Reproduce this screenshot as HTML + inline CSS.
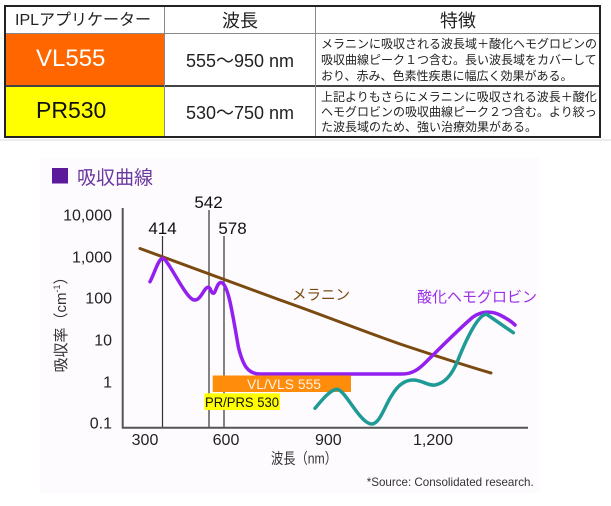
<!DOCTYPE html>
<html><head><meta charset="utf-8">
<style>
html,body{margin:0;padding:0;background:#fff;}
body{width:611px;height:506px;position:relative;overflow:hidden;font-family:"Liberation Sans","Noto Sans CJK JP",sans-serif;}
.a{position:absolute;}
.c{position:absolute;white-space:nowrap;}
</style></head><body>
<!-- table -->
<div class="a" style="left:6px;top:34px;width:158px;height:51px;background:#ff6600;"></div>
<div class="a" style="left:6px;top:86px;width:158px;height:50px;background:#ffff00;"></div>
<div class="a" style="left:6px;top:33px;width:595px;height:1px;background:#8a8a8a;"></div>
<div class="a" style="left:6px;top:85px;width:595px;height:1.5px;background:#444;"></div>
<div class="a" style="left:164px;top:6px;width:1px;height:131px;background:#8a8a8a;"></div>
<div class="a" style="left:315px;top:6px;width:1px;height:131px;background:#8a8a8a;"></div>
<div class="a" style="left:4px;top:5px;width:593px;height:129px;border:2px solid #222;"></div>

<div class="c" style="left:15px;top:10px;font-size:16px;line-height:22px;color:#222;">IPLアプリケーター</div>
<div class="c" style="left:165px;width:150px;top:10px;text-align:center;font-size:18px;line-height:22px;color:#222;">波長</div>
<div class="c" style="left:316px;width:284px;top:10px;text-align:center;font-size:18px;line-height:22px;color:#222;">特徴</div>

<div class="c" style="left:36px;top:45px;font-size:24px;line-height:28px;color:#fff;">VL555</div>
<div class="c" style="left:36px;top:96px;font-size:23px;line-height:28px;color:#111;">PR530</div>

<div class="c" style="left:165px;width:150px;top:50px;text-align:center;font-size:18px;line-height:22px;color:#222;">555～950 nm</div>
<div class="c" style="left:165px;width:150px;top:102px;text-align:center;font-size:18px;line-height:22px;color:#222;">530～750 nm</div>

<div class="c" style="left:321px;top:36px;font-size:12px;line-height:16px;color:#222;">メラニンに吸収される波長域＋酸化ヘモグロビンの<br>吸収曲線ピーク１つ含む。長い波長域をカバーして<br>おり、赤み、色素性疾患に幅広く効果がある。</div>
<div class="c" style="left:321px;top:90px;font-size:12px;line-height:15px;color:#222;">上記よりもさらにメラニンに吸収される波長＋酸化<br>ヘモグロビンの吸収曲線ピーク２つ含む。より絞っ<br>た波長域のため、強い治療効果がある。</div>

<div class="a" style="left:0;top:139px;width:611px;height:2px;background:#ececec;"></div>

<svg class="a" style="left:0;top:0" width="611" height="506" viewBox="0 0 611 506" font-family="Liberation Sans, Noto Sans CJK JP, sans-serif">
<rect x="40" y="158" width="500" height="335" fill="#fdfbfd"/>
<rect x="52" y="168" width="16" height="15.5" fill="#5c1a9a"/>
<text x="77" y="184" font-size="19" fill="#6a38a0">吸収曲線</text>

<!-- y tick labels -->
<g font-size="16" fill="#222" text-anchor="end">
<text x="112" y="220.7">10,000</text>
<text x="112" y="262.4">1,000</text>
<text x="112" y="303.7">100</text>
<text x="112" y="345.7">10</text>
<text x="112" y="387.4">1</text>
<text x="112" y="428.7">0.1</text>
</g>
<!-- y title -->
<text transform="translate(66,321) rotate(-90)" font-size="15" fill="#333" text-anchor="middle">吸収率（cm<tspan font-size="9" dy="-6">-1</tspan><tspan dy="6">）</tspan></text>

<!-- vertical marker lines -->
<g stroke="#333" stroke-width="1.2">
<line x1="162.5" y1="236" x2="162.5" y2="427"/>
<line x1="209" y1="210" x2="209" y2="427"/>
<line x1="224" y1="236" x2="224" y2="427"/>
</g>
<g font-size="17" fill="#111" text-anchor="middle">
<text x="162.5" y="234">414</text>
<text x="208.5" y="208">542</text>
<text x="232.5" y="234">578</text>
</g>

<!-- axes -->
<line x1="122.7" y1="208" x2="122.7" y2="428.5" stroke="#555" stroke-width="2"/>
<line x1="122" y1="427.7" x2="528" y2="427.7" stroke="#555" stroke-width="2"/>

<!-- x ticks -->
<g font-size="16" fill="#222" text-anchor="middle">
<text x="145" y="445">300</text>
<text x="226" y="445">600</text>
<text x="328.3" y="445">900</text>
<text x="433" y="445">1,200</text>
</g>
<text x="271" y="463.5" font-size="15" fill="#333" textLength="66" lengthAdjust="spacingAndGlyphs">波長（nm）</text>
<text x="366.7" y="486" font-size="12" fill="#333" textLength="167" lengthAdjust="spacingAndGlyphs">*Source:  Consolidated research.</text>

<!-- melanin -->
<path d="M140,248.5 L280,300 C320,314 360,330 400,344 C430,354 460,364 491,373" fill="none" stroke="#7a4a10" stroke-width="3" stroke-linecap="round"/>
<text x="292" y="300" font-size="14.5" fill="#7a4a10">メラニン</text>

<!-- oxyhemoglobin -->
<path d="M150,281.7 C155,272 158,260 162.3,258.3 C168,258 185,298 194,300 C201,301 204,287 208.3,287.3 C211,287.5 211,293.5 213.3,293.3 C216,293 217,281 221.7,282.7 C228,285 232,310 238.3,346.7 C243,366 248,374 260,374 L402,374 C412,374 418,370 426,362 C440,348 460,328 473,317 C480,312 490,310 500,315 C506,318 511,321 515,325" fill="none" stroke="#9420f0" stroke-width="3.5" stroke-linecap="round" stroke-linejoin="round"/>
<text x="417" y="302" font-size="15" fill="#9a30e8">酸化ヘモグロビン</text>

<!-- bars -->
<rect x="212.7" y="375.5" width="138.3" height="16.5" fill="#ff8c0a"/>
<text x="247" y="389" font-size="14" fill="#fff2e4" textLength="74" lengthAdjust="spacingAndGlyphs">VL/VLS 555</text>
<rect x="204.3" y="393.3" width="75.7" height="16.7" fill="#ffff00"/>
<text x="205" y="406.8" font-size="14" fill="#111" textLength="74" lengthAdjust="spacingAndGlyphs">PR/PRS 530</text>

<!-- teal -->
<path d="M315,408.3 C322,400 330,390 336.7,389.3 C345,389 360,424 371.7,424 C380,424 385,405 392,395 C398,385 405,380 413,380 C422,380 428,386 435,385 C445,383 452,375 458,360 C466,340 478,314 486.7,314.3 L513.3,332.7" fill="none" stroke="#1f9a96" stroke-width="3.5" stroke-linecap="round" stroke-linejoin="round"/>
</svg>
</body></html>
